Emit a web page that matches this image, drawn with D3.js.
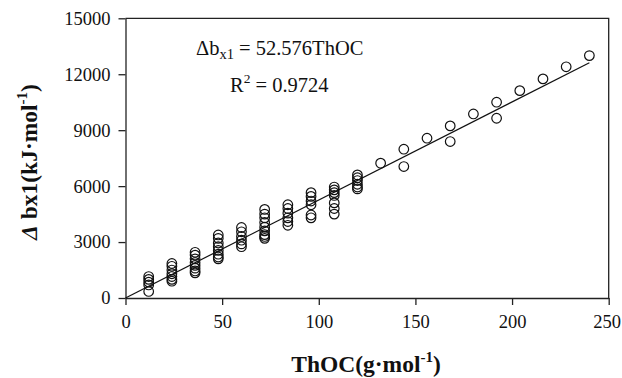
<!DOCTYPE html>
<html>
<head>
<meta charset="utf-8">
<script src="https://cdn.jsdelivr.net/npm/d3@7"></script>
<style>
  body { margin: 0; background: #fff; }
  svg { display: block; }
  svg text { font-family: 'Liberation Serif', 'Times New Roman', serif !important; fill: #111; }
</style>
</head>
<body>
<div id="chart"></div>
<script>
const clusterX = [12, 24, 36, 48, 60, 72, 84, 96, 108, 120];
const clusterY = [
  [1150, 1000, 850, 700, 350],
  [1850, 1700, 1500, 1300, 1150, 1000, 900],
  [2450, 2300, 2100, 1900, 1750, 1600, 1450, 1350],
  [3380, 3200, 2950, 2750, 2550, 2350, 2200, 2100],
  [3780, 3550, 3300, 3100, 2900, 2750],
  [4750, 4500, 4300, 4050, 3800, 3600, 3400, 3300, 3200],
  [5000, 4800, 4550, 4300, 4100, 3900],
  [5650, 5450, 5200, 5000, 4450, 4300],
  [5950, 5800, 5650, 5500, 5100, 4800, 4500],
  [6600, 6450, 6300, 6100, 5950, 5850]
];
const upperX = [132, 144, 144, 156, 168, 168, 180, 192, 192, 204, 216, 228, 240];
const upperY = [7230, 7980, 7050, 8570, 9230, 8390, 9870, 10500, 9640, 11120, 11750, 12400, 13000];

const slope = 52.576;
const fitX = [0, 240];

const xTicks = [0, 50, 100, 150, 200, 250];
const yTicks = [0, 3000, 6000, 9000, 12000, 15000];

const W = 622, H = 378;
const margin = { top: 18.3, right: 13.3, bottom: 80, left: 125.5 };
const iw = W - margin.left - margin.right;
const ih = H - margin.top - margin.bottom;

const points = [];
clusterX.forEach((x, i) => clusterY[i].forEach(y => points.push({ x, y })));
upperX.forEach((x, i) => points.push({ x, y: upperY[i] }));

const svg = d3.select('#chart').append('svg')
  .attr('width', W)
  .attr('height', H);

const g = svg.append('g')
  .attr('transform', `translate(${margin.left},${margin.top})`);

const x = d3.scaleLinear().domain([0, 250]).range([0, iw]);
const y = d3.scaleLinear().domain([0, 15000]).range([ih, 0]);

// frame (top + right)
g.append('path')
  .attr('d', `M0,0H${iw}V${ih}`)
  .attr('fill', 'none')
  .attr('stroke', '#222')
  .attr('stroke-width', 1.3);

const xAxis = g.append('g')
  .attr('transform', `translate(0,${ih})`)
  .call(d3.axisBottom(x).tickValues(xTicks).tickFormat(d3.format('d'))
    .tickSize(7).tickPadding(9.5).tickSizeOuter(0));

const yAxis = g.append('g')
  .call(d3.axisLeft(y).tickValues(yTicks).tickFormat(d3.format('d'))
    .tickSize(7).tickPadding(8).tickSizeOuter(0));

[xAxis, yAxis].forEach(a => {
  a.attr('font-family', null).attr('font-size', null);
  a.selectAll('path, line').attr('stroke', '#222').attr('stroke-width', 1.3);
  a.selectAll('text')
    .style('font-size', '18.5px')
    .attr('fill', '#222');
});
// keep the last x label inside the window
xAxis.selectAll('.tick text').filter(d => d === 250).attr('dx', -2);

// regression line
g.append('path')
  .datum(fitX)
  .attr('fill', 'none')
  .attr('stroke', '#111')
  .attr('stroke-width', 1.2)
  .attr('d', d3.line().x(d => x(d)).y(d => y(d * slope)));

// data points
g.selectAll('circle.pt')
  .data(points)
  .enter()
  .append('circle')
  .attr('class', 'pt')
  .attr('cx', d => x(d.x))
  .attr('cy', d => y(d.y))
  .attr('r', 4.8)
  .attr('fill', 'none')
  .attr('stroke', '#111')
  .attr('stroke-width', 1.2);

// equation
const eq = svg.append('text')
  .attr('x', 196)
  .attr('y', 55)
  .style('font-size', '20.5px');
eq.append('tspan').text('Δb');
eq.append('tspan').attr('dy', 4).style('font-size', '14.5px').text('x1');
eq.append('tspan').attr('dy', -4).text(' = 52.576ThOC');

const r2 = svg.append('text')
  .attr('x', 230)
  .attr('y', 92)
  .style('font-size', '20.5px');
r2.append('tspan').text('R');
r2.append('tspan').attr('dy', -9).style('font-size', '13.5px').text('2');
r2.append('tspan').attr('dy', 9).text(' = 0.9724');

// axis titles
const xt = svg.append('text')
  .attr('x', 366)
  .attr('y', 372)
  .attr('text-anchor', 'middle')
  .style('font-size', '23.5px')
  .style('font-weight', 'bold');
xt.append('tspan').text('ThOC(g·mol');
xt.append('tspan').attr('dy', -10).style('font-size', '15px').text('-1');
xt.append('tspan').attr('dy', 10).text(')');

const yt = svg.append('text')
  .attr('transform', 'translate(37,162) rotate(-90)')
  .attr('text-anchor', 'middle')
  .style('font-size', '23.5px')
  .style('font-weight', 'bold');
yt.append('tspan').style('font-style', 'italic').text('Δ');
yt.append('tspan').text(' bx1(kJ·mol');
yt.append('tspan').attr('dy', -10).style('font-size', '15px').text('-1');
yt.append('tspan').attr('dy', 10).text(')');
</script>
</body>
</html>
